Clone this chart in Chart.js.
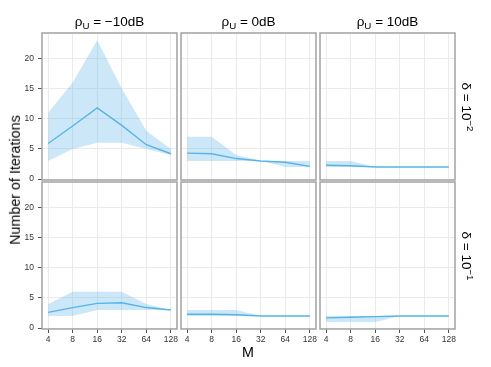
<!DOCTYPE html>
<html>
<head>
<meta charset="utf-8">
<script src="https://cdn.jsdelivr.net/npm/chart.js@4/dist/chart.umd.min.js"></script>
<style>
  body { margin: 0; background: #fff; }
  #wrap { position: relative; width: 491px; height: 367px; overflow: hidden; font-family: "Liberation Sans", Arial, sans-serif; color: #000; }
  #wrap canvas { position: absolute; }
  .lbl { position: absolute; white-space: nowrap; line-height: 1; transform: translate(-50%, -50%); }
  .lbl sub { font-size: 0.72em; vertical-align: -0.3em; line-height: 0; }
  .lbl sup { font-size: 0.72em; vertical-align: 0.55em; line-height: 0; }
</style>
</head>
<body>
<div id="wrap"></div>
<script>
// x values (M) and tick labels
const mValues = [4, 8, 16, 32, 64, 128];
const yTicks = [0, 5, 10, 15, 20];
const rhoLabels = ['\u221210dB', '0dB', '10dB'];
const deltaExps = ['\u22122', '\u22121'];

// delta = 10^-2
const meanD2R1 = [5.9, 8.8, 11.8, 8.9, 5.7, 4.2];
const upperD2R1 = [11, 16, 23, 15, 8, 5];
const lowerD2R1 = [3, 5, 6, 6, 5, 4];

const meanD2R2 = [4.3, 4.2, 3.4, 3.0, 2.8, 2.1];
const upperD2R2 = [7, 7, 4, 3, 3, 3];
const lowerD2R2 = [3, 3, 3, 3, 2, 2];

const meanD2R3 = [2.3, 2.2, 2.0, 2.0, 2.0, 2.0];
const upperD2R3 = [3, 3, 2, 2, 2, 2];
const lowerD2R3 = [2, 2, 2, 2, 2, 2];

// delta = 10^-1
const meanD1R1 = [2.6, 3.4, 4.1, 4.2, 3.4, 3.0];
const upperD1R1 = [4, 6, 6, 6, 4, 3];
const lowerD1R1 = [2, 2, 3, 3, 3, 3];

const meanD1R2 = [2.3, 2.3, 2.2, 2.0, 2.0, 2.0];
const upperD1R2 = [3, 3, 3, 2, 2, 2];
const lowerD1R2 = [2, 2, 2, 2, 2, 2];

const meanD1R3 = [1.7, 1.8, 1.9, 2.0, 2.0, 2.0];
const upperD1R3 = [2, 2, 2, 2, 2, 2];
const lowerD1R3 = [1, 1, 1, 2, 2, 2];

const panels = [
  [[meanD2R1, upperD2R1, lowerD2R1], [meanD2R2, upperD2R2, lowerD2R2], [meanD2R3, upperD2R3, lowerD2R3]],
  [[meanD1R1, upperD1R1, lowerD1R1], [meanD1R2, upperD1R2, lowerD1R2], [meanD1R3, upperD1R3, lowerD1R3]]
];

// layout
const colLeft = [42, 181, 320];
const rowTop = [33, 182];
const panelW = 135, panelH = 147;
const pad = 10;
const wrap = document.getElementById('wrap');

const ribbonColor = 'rgba(86,180,233,0.3)';
const lineColor = '#56B4E9';
const tickFont = { size: 8.5, family: '"Liberation Sans", Arial, sans-serif' };

const panelBorder = {
  id: 'panelBorder',
  afterDraw(chart) {
    const a = chart.chartArea, ctx = chart.ctx;
    ctx.save();
    ctx.strokeStyle = '#a3a3a3';
    ctx.lineWidth = 1.5;
    ctx.strokeRect(a.left, a.top, a.right - a.left, a.bottom - a.top);
    ctx.restore();
  }
};

function toPts(vals) {
  return vals.map((v, i) => ({ x: mValues[i], y: v }));
}

function makePanel(row, col) {
  const [mean, upper, lower] = panels[row][col];
  const yW = col === 0 ? 24 : 0;
  const xH = row === 1 ? 18 : 0;
  const cv = document.createElement('canvas');
  cv.width = panelW + 2 * pad + yW;
  cv.height = panelH + 2 * pad + xH;
  cv.style.left = (colLeft[col] - pad - yW) + 'px';
  cv.style.top = (rowTop[row] - pad) + 'px';
  wrap.appendChild(cv);

  new Chart(cv.getContext('2d'), {
    type: 'line',
    data: {
      datasets: [
        { data: toPts(upper), fill: '+1', backgroundColor: ribbonColor, borderWidth: 0, pointRadius: 0 },
        { data: toPts(lower), fill: false, borderWidth: 0, pointRadius: 0 },
        { data: toPts(mean), fill: false, borderColor: lineColor, borderWidth: 1.4, pointRadius: 0 }
      ]
    },
    options: {
      responsive: false,
      animation: false,
      devicePixelRatio: 1,
      layout: { padding: pad },
      plugins: { legend: { display: false }, tooltip: { enabled: false } },
      scales: {
        x: {
          type: 'logarithmic',
          min: 4 / Math.pow(2, 0.25),
          max: 128 * Math.pow(2, 0.25),
          afterBuildTicks: s => { s.ticks = mValues.map(v => ({ value: v })); },
          afterFit: s => { s.height = xH; },
          border: { display: false },
          grid: { color: '#ebebeb', lineWidth: 1, drawTicks: row === 1, tickLength: 4, tickColor: '#555' },
          ticks: { display: row === 1, autoSkip: false, maxRotation: 0, padding: 2, color: '#333', font: tickFont,
                   callback: v => String(v) }
        },
        y: {
          min: -0.15,
          max: 24.2,
          afterBuildTicks: s => { s.ticks = yTicks.map(v => ({ value: v })); },
          afterFit: s => { s.width = yW; },
          border: { display: false },
          grid: { color: '#ebebeb', lineWidth: 1, drawTicks: col === 0, tickLength: 4, tickColor: '#555' },
          ticks: { display: col === 0, padding: 4, color: '#333', font: tickFont, callback: v => String(v) }
        }
      }
    },
    plugins: [panelBorder]
  });
}

for (let r = 0; r < 2; r++) {
  for (let c = 0; c < 3; c++) makePanel(r, c);
}

function addLabel(html, x, y, size, rot) {
  const d = document.createElement('div');
  d.className = 'lbl';
  d.innerHTML = html;
  d.style.left = x + 'px';
  d.style.top = y + 'px';
  d.style.fontSize = size + 'px';
  if (rot) d.style.transform = 'translate(-50%, -50%) rotate(' + rot + 'deg)';
  wrap.appendChild(d);
}

rhoLabels.forEach((t, c) => {
  addLabel('\u03C1<sub>U</sub> = ' + t, colLeft[c] + panelW / 2, 22, 13.5);
});
deltaExps.forEach((e, r) => {
  addLabel('\u03B4 = 10<sup>' + e + '</sup>', 466, rowTop[r] + panelH / 2, 13.5, 90);
});
addLabel('Number of Iterations', 15, 180, 14.3, -90);
addLabel('M', 248, 352, 14.3);
</script>
</body>
</html>
